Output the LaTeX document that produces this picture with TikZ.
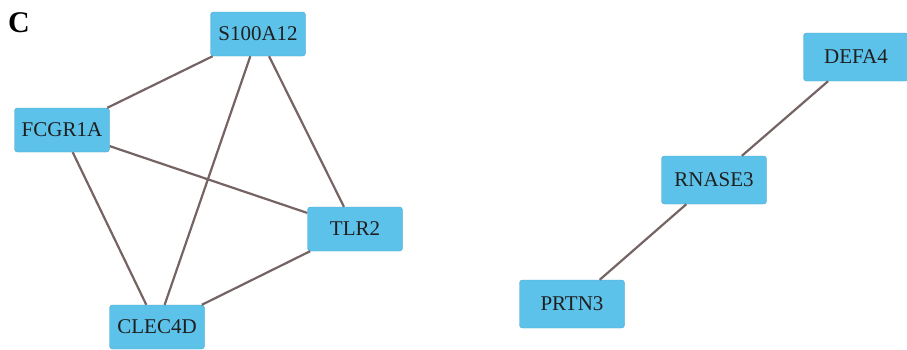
\documentclass[tikz,border=0pt]{standalone}
\usepackage{fontspec}
\setmainfont{Liberation Serif}
\begin{document}
\begin{tikzpicture}[x=1pt,y=-1pt,
  gene/.style={fill=geneblue, draw=geneblue!85!black, line width=0.4pt, rounded corners=3pt,
    inner sep=0pt, minimum width=95pt, minimum height=44pt,
    font=\fontsize{21}{24}\selectfont, text=black!88},
  geneL/.style={gene, minimum width=105pt, minimum height=48pt},
  link/.style={draw=linkgray, line width=2.2pt}]
\definecolor{geneblue}{HTML}{5CC2EA}
\definecolor{linkgray}{HTML}{766464}
\useasboundingbox (0,0) rectangle (907,349);
\fill[white] (0,0) rectangle (907,349);

% panel letter
\node[font=\fontsize{30}{32}\selectfont\bfseries] (panel) at (19,23) {C};

% left cluster
\node[gene] (s100) at (258,34) {S100A12};
\node[gene] (fcgr) at (62,130) {FCGR1A};
\node[gene] (tlr2) at (355,229) {TLR2};
\node[gene] (clec) at (157,327) {CLEC4D};

% right cluster
\node[geneL] (defa) at (856,57) {DEFA4};
\node[geneL] (rnase) at (714,180) {RNASE3};
\node[geneL] (prtn) at (572,304) {PRTN3};

% interactions
\draw[link] (s100) -- (fcgr);
\draw[link] (s100) -- (clec);
\draw[link] (s100) -- (tlr2);
\draw[link] (fcgr) -- (tlr2);
\draw[link] (fcgr) -- (clec);
\draw[link] (tlr2) -- (clec);
\draw[link] (defa) -- (rnase);
\draw[link] (rnase) -- (prtn);
\end{tikzpicture}
\end{document}
